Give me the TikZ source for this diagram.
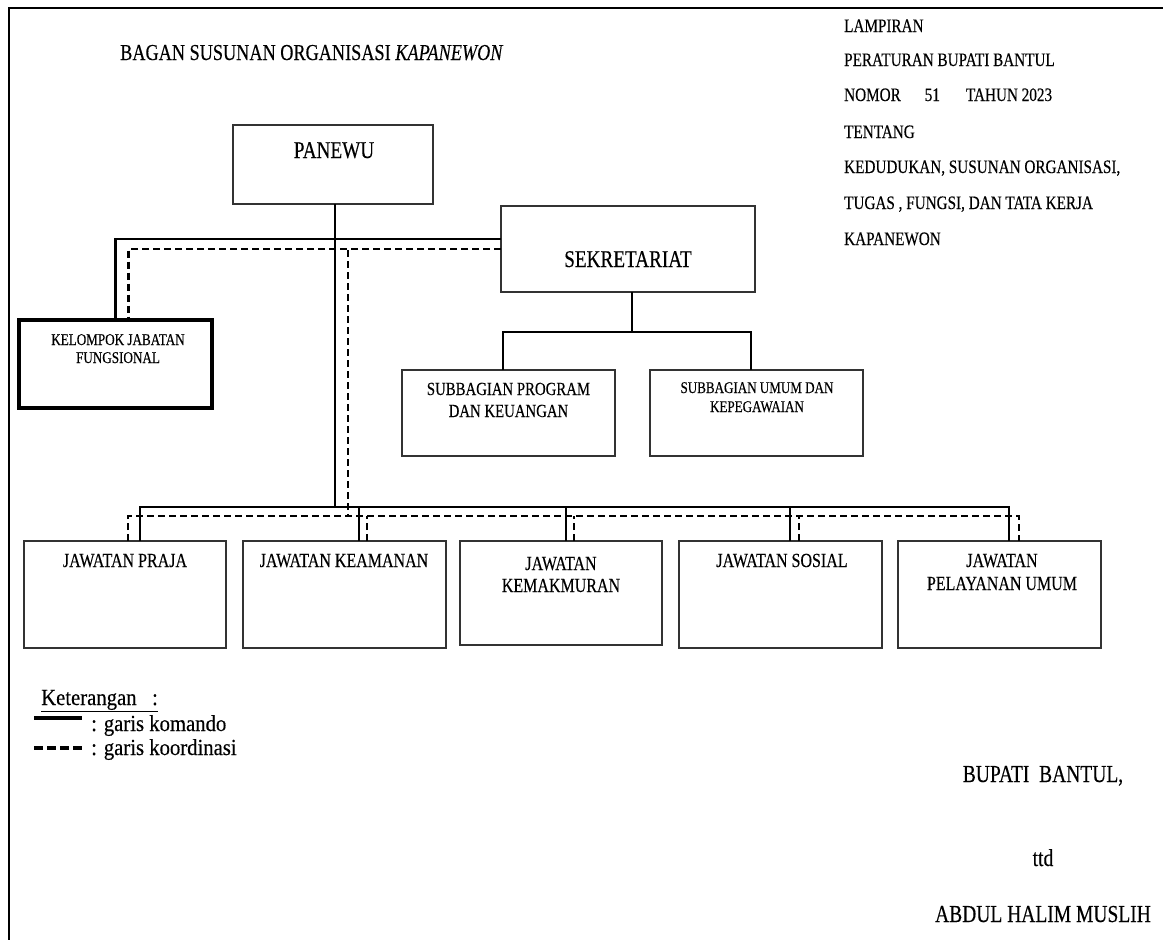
\documentclass[tikz,border=0pt]{standalone}
\usepackage{fontspec}
\setmainfont{Liberation Serif}[FakeStretch=0.8,FakeBold=0.3]
\newfontfamily\legfont{Liberation Serif}[FakeStretch=0.9,FakeBold=0.3]
\begin{document}
\begin{tikzpicture}[x=1pt,y=-1pt,
  box/.style={draw=black!80, line width=1.9pt, anchor=north west, inner sep=0pt, outer sep=0pt},
  thickbox/.style={box, draw=black, line width=3.2pt},
  txt/.style={anchor=base, inner sep=0pt},
  cmd/.style={line width=2.7pt},
  crd/.style={line width=2.7pt, dash pattern=on 7pt off 4pt},
  fa/.style={font=\fontsize{24}{28}\selectfont},
  fj/.style={font=\fontsize{20}{24}\selectfont},
  fr/.style={font=\fontsize{19}{22}\selectfont},
  fl/.style={font=\legfont\fontsize{23}{26}\selectfont},
]
\useasboundingbox (0,0) rectangle (1163,940);
\fill[white] (0,0) rectangle (1163,940);
% frame
\draw[line width=2.4pt] (9,940) -- (9,8) -- (1163,8);

% title
\node[txt, anchor=base west, font=\fontsize{22.8}{26}\selectfont] (title) at (120,60) {BAGAN SUSUNAN ORGANISASI \textit{KAPANEWON}};

% right header
\node[txt, anchor=base west, fr] (r1) at (844,32) {LAMPIRAN};
\node[txt, anchor=base west, fr] (r2) at (844,66) {PERATURAN BUPATI BANTUL};
\node[txt, anchor=base west, fr] (r3) at (844,101) {NOMOR\hspace{24pt}51\hspace{26pt}TAHUN 2023};
\node[txt, anchor=base west, fr] (r4) at (844,138) {TENTANG};
\node[txt, anchor=base west, fr] (r5) at (844,173) {KEDUDUKAN, SUSUNAN ORGANISASI,};
\node[txt, anchor=base west, fr] (r6) at (844,209) {TUGAS , FUNGSI, DAN TATA KERJA};
\node[txt, anchor=base west, fr] (r7) at (844,245) {KAPANEWON};

% boxes
\node[box, minimum width=200pt, minimum height=79pt] (panewu) at (233,125) {};
\node[box, minimum width=254pt, minimum height=86pt] (sek) at (501,206) {};
\node[box, minimum width=213pt, minimum height=86pt] (sp) at (402,370) {};
\node[box, minimum width=213pt, minimum height=86pt] (su) at (650,370) {};
\node[thickbox, minimum width=193pt, minimum height=88pt] (kel) at (19,320) {};
\node[box, minimum width=202pt, minimum height=107pt] (j1) at (24,541) {};
\node[box, minimum width=203pt, minimum height=107pt] (j2) at (243,541) {};
\node[box, minimum width=202pt, minimum height=104pt] (j3) at (460,541) {};
\node[box, minimum width=203pt, minimum height=107pt] (j4) at (679,541) {};
\node[box, minimum width=203pt, minimum height=107pt] (j5) at (898,541) {};

% box texts
\node[txt, fa] (tpan) at (334,158) {PANEWU};
\node[txt, fa] (tsek) at (628,267) {SEKRETARIAT};
\node[txt, font=\fontsize{18.5}{22}\selectfont] (tsp1) at (508.5,395) {SUBBAGIAN PROGRAM};
\node[txt, font=\fontsize{18.5}{22}\selectfont] (tsp2) at (508.5,417) {DAN KEUANGAN};
\node[txt, font=\fontsize{16.3}{19}\selectfont] (tsu1) at (757,393) {SUBBAGIAN UMUM DAN};
\node[txt, font=\fontsize{16.3}{19}\selectfont] (tsu2) at (757,412) {KEPEGAWAIAN};
\node[txt, font=\fontsize{16.4}{19}\selectfont] (tkel1) at (118,345) {KELOMPOK JABATAN};
\node[txt, font=\fontsize{16.4}{19}\selectfont] (tkel2) at (118,363) {FUNGSIONAL};
\node[txt, fj] (tj1) at (125,567) {JAWATAN PRAJA};
\node[txt, fj] (tj2) at (344,567) {JAWATAN KEAMANAN};
\node[txt, fj] (tj3a) at (561,570) {JAWATAN};
\node[txt, fj] (tj3b) at (561,592) {KEMAKMURAN};
\node[txt, fj] (tj4) at (782,567) {JAWATAN SOSIAL};
\node[txt, fj] (tj5a) at (1002,567) {JAWATAN};
\node[txt, fj] (tj5b) at (1002,590) {PELAYANAN UMUM};

% bus coordinates
\coordinate (sbus) at (0,507);
\coordinate (dbus) at (0,516);
\coordinate (sj) at (0,332);
\coordinate (dj) at (348,250);

% command lines (solid)
\draw[cmd] ([xshift=2pt]panewu.south) -- ([xshift=2pt]panewu.south |- sbus);
\draw[cmd] ([yshift=10pt]sek.west) -| (kel.north);
\draw[cmd] ([xshift=4pt]sek.south) -- ([xshift=4pt]sek.south |- sj);
\draw[cmd] ([xshift=-5.5pt]sp.north) |- ([xshift=-5.5pt]su.north |- sj) -- ([xshift=-5.5pt]su.north);
\draw[cmd] ([xshift=15pt]j1.north) |- ([xshift=9.5pt]j5.north |- sbus) -- ([xshift=9.5pt]j5.north);
\draw[cmd] ([xshift=14.5pt]j2.north) -- ([xshift=14.5pt]j2.north |- sbus);
\draw[cmd] ([xshift=5pt]j3.north) -- ([xshift=5pt]j3.north |- sbus);
\draw[cmd] ([xshift=9.5pt]j4.north) -- ([xshift=9.5pt]j4.north |- sbus);

% coordination lines (dashed)
\draw[crd] (sek.west) -| ([xshift=13pt]kel.north);
\draw[crd] (dj) -- (dj |- dbus);
\draw[crd] ([xshift=3pt]j1.north) |- ([xshift=19.5pt]j5.north |- dbus) -- ([xshift=19.5pt]j5.north);
\draw[crd] ([xshift=22.5pt]j2.north) -- ([xshift=22.5pt]j2.north |- dbus);
\draw[crd] ([xshift=13pt]j3.north) -- ([xshift=13pt]j3.north |- dbus);
\draw[crd] ([xshift=18.5pt]j4.north) -- ([xshift=18.5pt]j4.north |- dbus);

% legend
\node[txt, anchor=base west, fl] (ket) at (41,705) {\underline{Keterangan\ \ \ :}};
\coordinate (l1a) at (34,718);
\coordinate (l1b) at (82,718);
\coordinate (l2a) at (34,748);
\coordinate (l2b) at (82,748);
\draw[line width=4pt] (l1a) -- (l1b);
\draw[line width=4pt, dash pattern=on 9pt off 4pt] (l2a) -- (l2b);
\node[txt, anchor=base west, fl] (lk) at (91,731) {: garis komando};
\node[txt, anchor=base west, fl] (lc) at (91,755) {: garis koordinasi};

% signature
\node[txt, font=\fontsize{24.4}{28}\selectfont] (bup) at (1043,782) {BUPATI\ \ BANTUL,};
\node[txt, font=\fontsize{24.4}{28}\selectfont] (ttd) at (1043,866) {ttd};
\node[txt, font=\fontsize{24.4}{28}\selectfont] (nama) at (1043,922) {ABDUL HALIM MUSLIH};
\end{tikzpicture}
\end{document}
